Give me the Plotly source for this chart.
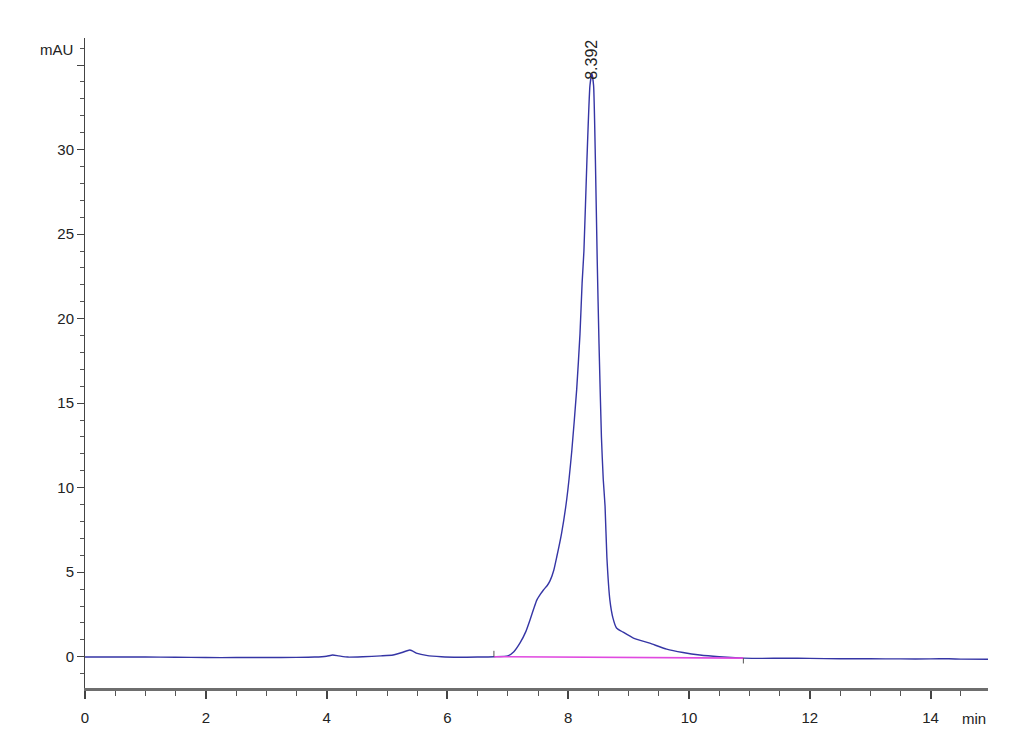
import plotly.graph_objects as go

# Chromatogram trace (time in min, absorbance in mAU)
time_min = [0.0, 0.5, 1.0, 1.5, 2.0, 2.5, 3.0, 3.5, 3.8, 4.0, 4.1, 4.2, 4.35, 4.6, 4.9,
            5.1, 5.25, 5.38, 5.5, 5.65, 5.9, 6.2, 6.5, 6.77, 7.0, 7.1, 7.2, 7.3, 7.37,
            7.43, 7.48, 7.54, 7.59, 7.65, 7.70, 7.76, 7.81, 7.89, 7.975, 8.06, 8.14,
            8.195, 8.23, 8.26, 8.31, 8.36, 8.392, 8.42, 8.45, 8.48, 8.51, 8.55, 8.58,
            8.61, 8.64, 8.69, 8.74, 8.80, 8.91, 9.08, 9.35, 9.63, 9.9, 10.18, 10.5,
            10.9, 11.2, 11.6, 12.0, 12.5, 13.0, 13.5, 14.0, 14.3, 14.5, 14.95]
absorb_mau = [-0.02, -0.02, -0.02, -0.03, -0.05, -0.05, -0.05, -0.04, -0.02, 0.03, 0.1,
              0.05, -0.02, 0.0, 0.05, 0.1, 0.25, 0.4, 0.2, 0.08, 0.0, -0.03, -0.02, 0.0,
              0.05, 0.3, 0.8, 1.5, 2.2, 2.85, 3.35, 3.7, 3.95, 4.2, 4.5, 5.1, 5.9, 7.3,
              9.3, 12.2, 15.8, 19.1, 22.1, 24.0, 29.4, 33.8, 34.5, 33.8, 29.4, 23.5,
              18.5, 13.0, 10.5, 8.9, 5.9, 3.35, 2.3, 1.7, 1.45, 1.1, 0.8, 0.45, 0.25,
              0.1, 0.0, -0.08, -0.1, -0.08, -0.1, -0.12, -0.12, -0.13, -0.13, -0.12,
              -0.14, -0.15]

# Integration baseline
base_time = [6.77, 10.9]
base_val = [0.0, -0.08]

# Integration event marks
evt_start_t = [6.77, 6.77]
evt_start_v = [0.0, 0.35]
evt_end_t = [10.9, 10.9]
evt_end_v = [-0.08, -0.4]

peak_rt = 8.392
peak_label = "8.392"
peak_label_y = 34.0

x_range = [0, 14.95]
y_range = [-1.85, 36.6]
x_tickvals = [0, 2, 4, 6, 8, 10, 12, 14]
y_tickvals = [0, 5, 10, 15, 20, 25, 30, 35]
y_ticktext = ["0", "5", "10", "15", "20", "25", "30", ""]

fig = go.Figure()
fig.add_trace(go.Scatter(x=time_min, y=absorb_mau, mode="lines",
                         line=dict(color="#3535a5", width=1.4, shape="spline", smoothing=0.5),
                         hoverinfo="skip"))
fig.add_trace(go.Scatter(x=base_time, y=base_val, mode="lines",
                         line=dict(color="#e04ae0", width=1.6), hoverinfo="skip"))
fig.add_trace(go.Scatter(x=evt_start_t, y=evt_start_v, mode="lines",
                         line=dict(color="#555555", width=1), hoverinfo="skip"))
fig.add_trace(go.Scatter(x=evt_end_t, y=evt_end_v, mode="lines",
                         line=dict(color="#555555", width=1), hoverinfo="skip"))

font_family = "Liberation Sans, Arial, sans-serif"

fig.add_annotation(x=peak_rt, y=peak_label_y, text=peak_label, textangle=-90,
                   showarrow=False, xanchor="center", yanchor="bottom",
                   font=dict(family=font_family, size=16, color="#222222"))
fig.add_annotation(x=0, y=1, xref="paper", yref="paper", text="mAU", showarrow=False,
                   xanchor="right", yanchor="middle", xshift=-10, yshift=-11,
                   font=dict(family=font_family, size=15, color="#222222"))
fig.add_annotation(x=1, y=0, xref="paper", yref="paper", text="min", showarrow=False,
                   xanchor="right", yanchor="top", yshift=-20,
                   font=dict(family=font_family, size=15, color="#222222"))

fig.update_layout(
    width=1030, height=755,
    margin=dict(l=77, r=50, t=30, b=75),
    paper_bgcolor="white", plot_bgcolor="white",
    showlegend=False,
    font=dict(family=font_family, size=15, color="#222222"),
    xaxis=dict(range=x_range, tickvals=x_tickvals, showgrid=False, zeroline=False,
               showline=True, linecolor="#6e6e6e", linewidth=2.5,
               ticks="outside", ticklen=8, tickwidth=1.5, tickcolor="#444444",
               ticklabelstandoff=6,
               minor=dict(dtick=0.5, ticks="outside", ticklen=5, tickwidth=1.2,
                          tickcolor="#555555"),
               tickfont=dict(size=15, color="#222222")),
    yaxis=dict(range=y_range, tickvals=y_tickvals, ticktext=y_ticktext,
               showgrid=False, zeroline=False,
               showline=True, linecolor="#444444", linewidth=1,
               ticks="outside", ticklen=7, tickwidth=1, tickcolor="#444444",
               minor=dict(dtick=1, ticks="outside", ticklen=4, tickwidth=1,
                          tickcolor="#555555"),
               tickfont=dict(size=15, color="#222222")),
)

fig.write_html("out.html")
